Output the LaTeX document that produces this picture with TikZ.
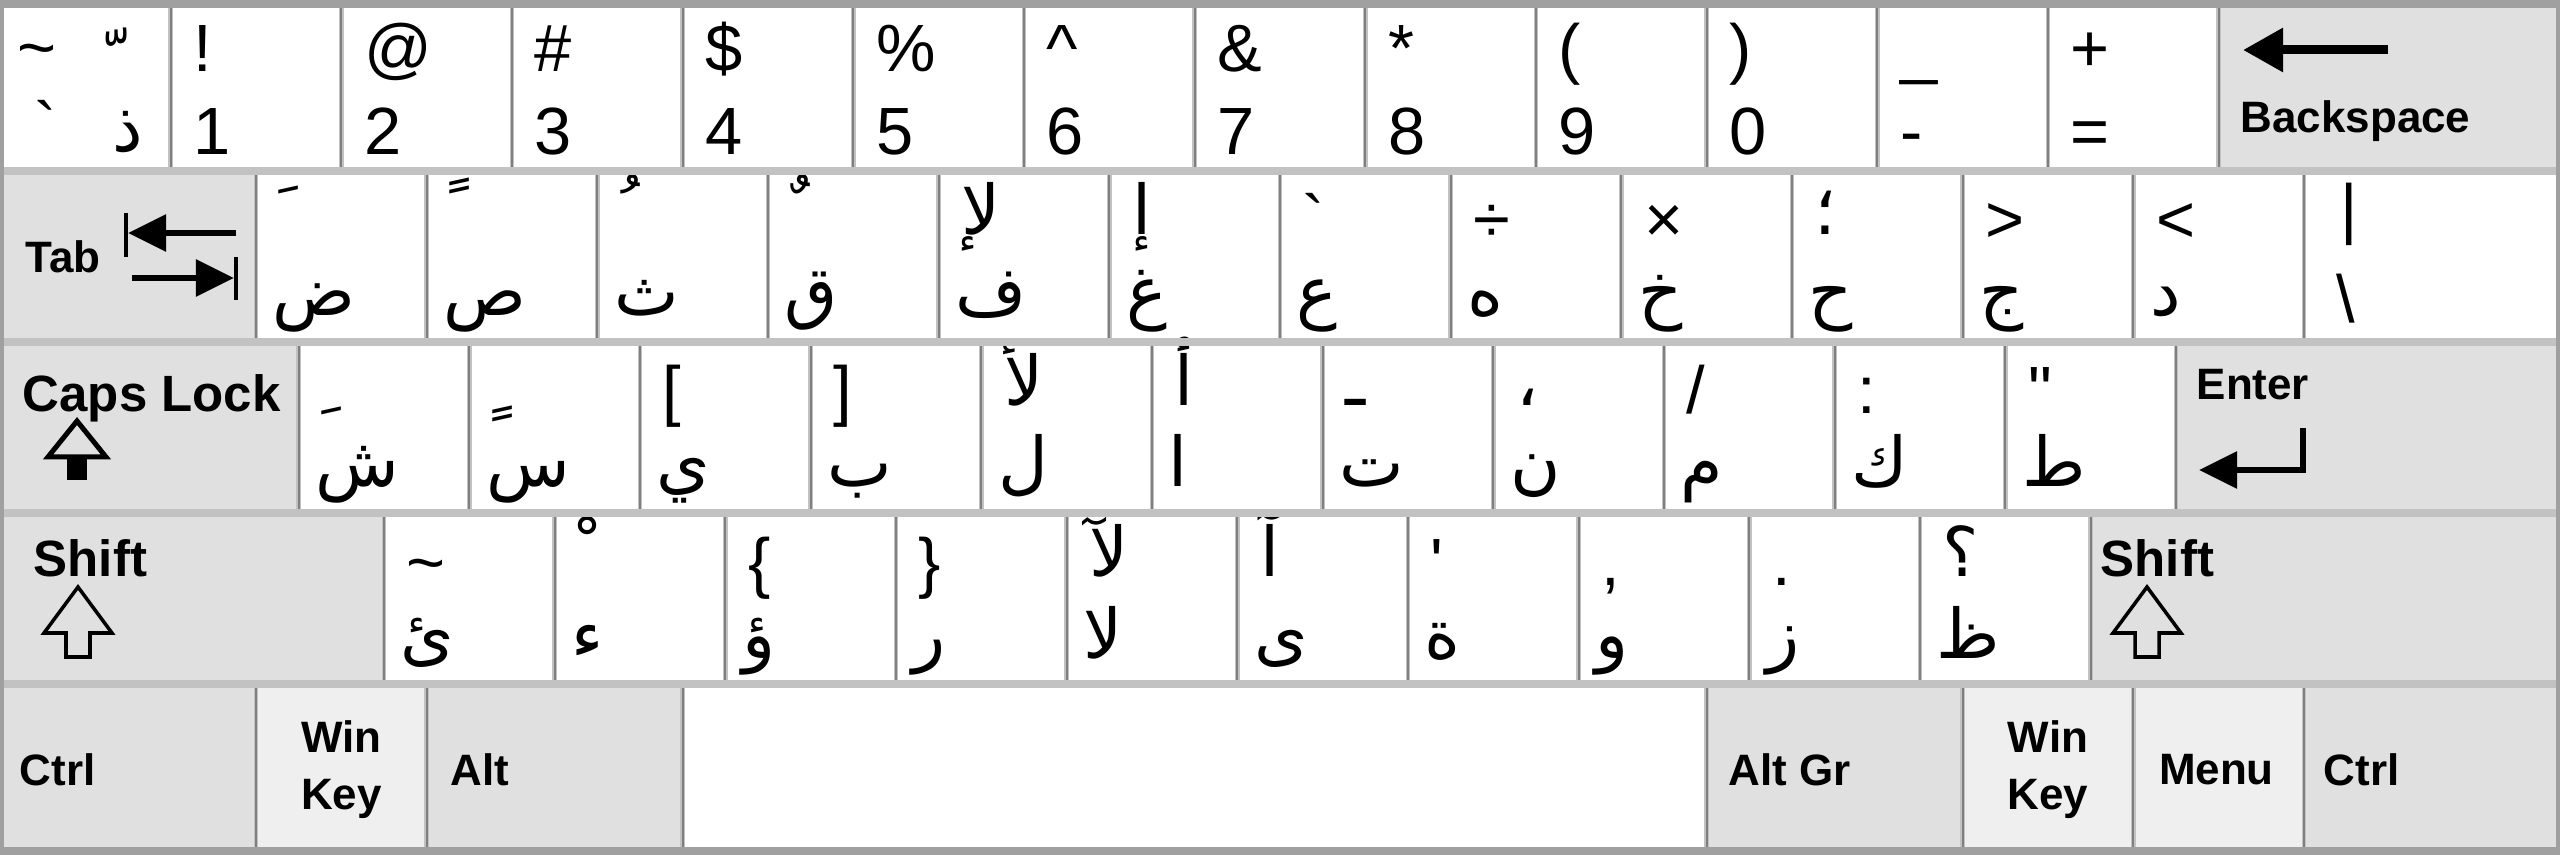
\documentclass[tikz,border=0pt]{standalone}
\usepackage{fontspec}
\newfontfamily\keyfont{Liberation Sans}
\newfontfamily\arabicfont[Script=Arabic]{DejaVu Sans}
\TeXXeTstate=1
\usetikzlibrary{arrows.meta}

\definecolor{modgray}{HTML}{E0E0E0}
\definecolor{wingray}{HTML}{EFEFEF}
\definecolor{keyline}{HTML}{7F7F7F}
\definecolor{keyshade}{HTML}{C2C2C2}
\definecolor{frameline}{HTML}{A0A0A0}

\begin{document}
\begin{tikzpicture}[x=0.01cm, y=-0.01cm,
                    key/.style={draw=keyshade, line width=1.4pt, fill=white,
                                postaction={draw=keyline, line width=0.5pt},
                                anchor=north west, inner sep=0pt, outer sep=0pt,
                                minimum height=1.71cm, minimum width=#1*1.70667cm},
                    key/.default=1,
                    modkey/.style={key=#1, fill=modgray},
                    modkey/.default=1,
                    winkey/.style={key=#1, fill=wingray},
                    winkey/.default=1,
                    hilab/.style={anchor=base west, inner sep=0pt,
                                  font=\keyfont\fontsize{19}{19}\selectfont},
                    arfont/.style={anchor=base west, inner sep=0pt,
                                   font=\arabicfont\fontsize{19.5}{19.5}\selectfont,
                                   execute at begin node=\beginR,
                                   execute at end node=\endR},
                    arhi/.style={arfont, yshift=0.08cm},
                    arlo/.style={arfont},
                    modlab/.style={anchor=base west, inner sep=0pt,
                                   font=\keyfont\bfseries\fontsize{12.5}{16}\selectfont},
                    bigmodlab/.style={modlab, font=\keyfont\bfseries\fontsize{14.5}{17}\selectfont},
                    rowedge/.style={draw=keyshade, line width=2.4pt},
                    bsarrow/.style={line width=0.09cm, -{Triangle[length=0.4cm, width=0.42cm]}},
                    tabarrow/.style={line width=0.06cm, -{Triangle[length=0.38cm, width=0.36cm]}},
                    tabbar/.style={line width=0.045cm},
                    shiftarrow/.style={line width=0.035cm, line join=miter}
                    ]
    \useasboundingbox (0,0) rectangle (2560,855);

    % row 1: digits
    \node[key] (tilde) at (0,0) {};
    \node[hilab] (tilde-a) at (17,71) {\textasciitilde};
    \node[arfont] (tilde-b) at (106,88) {ﹼ};
    \node[hilab] (tilde-c) at (34,150) {`};
    \node[arlo] (tilde-d) at (112,152) {ذ};
    \foreach \hi/\lo [count=\i] in {!/1, @/2, \#/3, \$/4, \%/5, \textasciicircum/6,
                                    \&/7, */8, {(}/9, {)}/0, \_/-, +/=}
    {
        \node[key] (num\i) at (\i*170.667,0) {};
        \node[hilab] (num\i-hi) at (\i*170.667+22,72) {\hi};
        \node[hilab] (num\i-lo) at (\i*170.667+22,155) {\lo};
    }
    \node[modkey=2] (bksp) at (2218.667,0) {};
    \node[modlab] (bksp-t) at (2240,133) {Backspace};
    \draw[bsarrow] (2388,50) -- (2243,50);

    % row 2
    \node[modkey=1.5] (tab) at (0,171) {};
    \node[modlab, anchor=west] (tab-t) at ([xshift=0.25cm]tab.west) {Tab};
    \draw[tabbar] (126,213) -- (126,257);
    \draw[tabarrow] (236,233) -- (128,233);
    \draw[tabbar] (236,257) -- (236,300);
    \draw[tabarrow] (132,278) -- (234,278);
    \foreach \hi/\lo/\kind [count=\i from 0] in {ﹶ/ض/arhi, ﹰ/ص/arhi, ﹸ/ث/arhi, ﹲ/ق/arhi,
                                                  لإ/ف/arhi, إ/غ/arhi, `/ع/hilab, ÷/ه/hilab,
                                                  ×/خ/hilab, ؛/ح/arhi, >/ج/hilab, </د/hilab}
    {
        \node[key] (qrow\i) at (256+\i*170.667,171) {};
        \node[\kind] (qrow\i-hi) at (256+\i*170.667+22,243) {\hi};
        \node[arlo] (qrow\i-lo) at (256+\i*170.667+16,316) {\lo};
    }
    \node[key=1.5] (bslash) at (2304,171) {};
    \node[hilab] (bslash-hi) at (2340,232) {|};
    \node[hilab] (bslash-lo) at (2336,323) {\textbackslash};

    % row 3
    \node[modkey=1.75] (caps) at (0,342) {};
    \node[bigmodlab] (caps-t) at (22,412) {Caps Lock};
    \draw[line width=0.05cm, fill=modgray, line join=miter] (77,421) -- (106,457) -- (48,457) -- cycle;
    \fill (67,457) rectangle (87,480);
    \foreach \hi/\lo/\kind [count=\i from 0] in {ﹺ/ش/arhi, ﹴ/س/arhi, [/ي/hilab, ]/ب/hilab,
                                                  لأ/ل/arhi, أ/ا/arhi, ـ/ت/arhi, ،/ن/arhi,
                                                  {/}/م/hilab, :/ك/hilab, "/ط/hilab}
    {
        \node[key] (arow\i) at (298.667+\i*170.667,342) {};
        \node[\kind] (arow\i-hi) at (298.667+\i*170.667+22,414) {\hi};
        \node[arlo] (arow\i-lo) at (298.667+\i*170.667+16,487) {\lo};
    }
    \node[modkey=2.25] (enter) at (2176,342) {};
    \node[modlab] (enter-t) at (2196,400) {Enter};
    \draw[tabarrow] (2303,428) -- (2303,470) -- (2199,470);

    % row 4
    \node[modkey=2.25] (lshift) at (0,513) {};
    \node[bigmodlab] (lshift-t) at (33,577) {Shift};
    \draw[shiftarrow] (78,587) -- (112,633) -- (90,633) -- (90,657) -- (66,657) -- (66,633) -- (44,633) -- cycle;
    \foreach \hi/\lo/\kind [count=\i from 0] in {\textasciitilde/ئ/hilab, ﹾ/ء/arhi, \{/ؤ/hilab, \}/ر/hilab,
                                                  لآ/لا/arhi, آ/ى/arhi, '/ة/hilab, {,}/و/hilab,
                                                  ./ز/hilab, ؟/ظ/arhi}
    {
        \node[key] (zrow\i) at (384+\i*170.667,513) {};
        \node[\kind] (zrow\i-hi) at (384+\i*170.667+22,585) {\hi};
        \node[arlo] (zrow\i-lo) at (384+\i*170.667+16,658) {\lo};
    }
    \node[modkey=2.75] (rshift) at (2090.667,513) {};
    \node[bigmodlab] (rshift-t) at (2100,577) {Shift};
    \draw[shiftarrow] (2147,587) -- (2181,633) -- (2159,633) -- (2159,657) -- (2135,657) -- (2135,633) -- (2113,633) -- cycle;

    % row 5
    \node[modkey=1.5] (lctrl) at (0,684) {};
    \node[winkey] (lwin) at (256,684) {};
    \node[modkey=1.5] (lalt) at (426.667,684) {};
    \node[key=6] (space) at (682.667,684) {};
    \node[modkey=1.5] (altgr) at (1706.667,684) {};
    \node[winkey] (rwin) at (1962.667,684) {};
    \node[winkey] (menu) at (2133.333,684) {};
    \node[modkey=1.5] (rctrl) at (2304,684) {};
    \node[modlab, anchor=west] (lctrl-t) at ([xshift=0.19cm]lctrl.west) {Ctrl};
    \node[modlab, anchor=center, align=center] (lwin-t) at (lwin.center) {Win\\Key};
    \node[modlab, anchor=west] (lalt-t) at ([xshift=0.23cm]lalt.west) {Alt};
    \node[modlab, anchor=west] (altgr-t) at ([xshift=0.21cm]altgr.west) {Alt Gr};
    \node[modlab, anchor=center, align=center] (rwin-t) at (rwin.center) {Win\\Key};
    \node[modlab, anchor=west] (menu-t) at ([xshift=0.25cm]menu.west) {Menu};
    \node[modlab, anchor=west] (rctrl-t) at ([xshift=0.19cm]rctrl.west) {Ctrl};

    % row edges and frame
    \foreach \y in {171,342,513,684}
        \draw[rowedge] (0,\y) -- (2560,\y);
    \draw[draw=frameline, line width=0.16cm] (0,0) -- (2560,0) (0,855) -- (2560,855);
    \draw[draw=frameline, line width=0.08cm] (0,0) -- (0,855) (2560,0) -- (2560,855);
\end{tikzpicture}
\end{document}
